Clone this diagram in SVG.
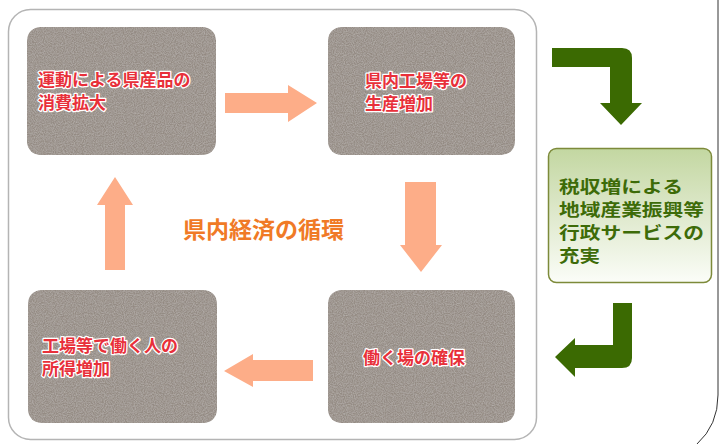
<svg xmlns="http://www.w3.org/2000/svg" width="722" height="444" viewBox="0 0 722 444">
<defs>
<filter id="stone" x="0" y="0" width="100%" height="100%">
<feTurbulence type="fractalNoise" baseFrequency="0.9" numOctaves="2" seed="3" result="n"/>
<feColorMatrix in="n" type="matrix" values="0 0 0 0 1  0 0 0 0 1  0 0 0 0 1  0 0 0 0.35 -0.1" result="w"/>
<feTurbulence type="fractalNoise" baseFrequency="0.25" numOctaves="2" seed="8" result="n2"/>
<feColorMatrix in="n2" type="matrix" values="0 0 0 0 0.3  0 0 0 0 0.27  0 0 0 0 0.25  0 0 0 0.5 -0.15" result="d"/>
<feMerge result="m"><feMergeNode in="SourceGraphic"/><feMergeNode in="d"/><feMergeNode in="w"/></feMerge>
<feComposite in="m" in2="SourceGraphic" operator="in"/>
</filter>
<linearGradient id="gg" x1="0" y1="0" x2="0" y2="1">
<stop offset="0" stop-color="#c3d7a1"/>
<stop offset="0.5" stop-color="#dfe9cd"/>
<stop offset="1" stop-color="#fbfdf8"/>
</linearGradient>
<style>
.stone{fill:#948b83;filter:url(#stone)}
.lbl{font-family:"Noto Sans CJK JP","Noto Sans",sans-serif;font-weight:bold;font-size:17px;fill:#e8303a;stroke:#ffffff;stroke-width:2.5px;paint-order:stroke;stroke-linejoin:round}
.ctr{font-family:"Noto Sans CJK JP","Noto Sans",sans-serif;font-size:23px;fill:#f07a26;font-weight:bold}
.gt{font-family:"Noto Sans CJK JP","Noto Sans",sans-serif;font-weight:bold;font-size:17px;fill:#3d6b08}
.sal{fill:#fdad88}
.grn{fill:#3b6a02}
</style>
</defs>
<rect width="722" height="444" fill="#ffffff"/>
<g id="frame">
<rect x="8.5" y="9.5" width="528" height="430" rx="22" fill="none" stroke="#b4b4b4" stroke-width="1.5"/>
<path d="M718 0 V395 Q718 425 697 444" fill="none" stroke="#333333" stroke-width="1"/>
</g>
<g id="node-consume">
<rect class="stone" x="27" y="27" width="189" height="128" rx="13"/>
<text class="lbl" x="38" y="86">運動による県産品の</text>
<text class="lbl" x="38" y="109">消費拡大</text>
</g>
<g id="node-production">
<rect class="stone" x="328" y="27" width="187" height="128" rx="13"/>
<text class="lbl" x="365" y="87">県内工場等の</text>
<text class="lbl" x="365" y="110">生産増加</text>
</g>
<g id="node-income">
<rect class="stone" x="28" y="290" width="189" height="133" rx="13"/>
<text class="lbl" x="42" y="352">工場等で働く人の</text>
<text class="lbl" x="42" y="375">所得増加</text>
</g>
<g id="node-jobs">
<rect class="stone" x="328" y="290" width="187" height="133" rx="13"/>
<text class="lbl" x="363" y="364">働く場の確保</text>
</g>
<g id="node-center">
<text class="ctr" x="183" y="238">県内経済の循環</text>
</g>
<g id="node-tax">
<rect x="548.5" y="148.5" width="163" height="134" rx="8" fill="url(#gg)" stroke="#7d8a3a" stroke-width="1.5"/>
<text class="gt" x="559" y="193" textLength="124" lengthAdjust="spacingAndGlyphs">税収増による</text>
<text class="gt" x="559" y="216" textLength="145" lengthAdjust="spacingAndGlyphs">地域産業振興等</text>
<text class="gt" x="559" y="239" textLength="145" lengthAdjust="spacingAndGlyphs">行政サービスの</text>
<text class="gt" x="559" y="262" textLength="41" lengthAdjust="spacingAndGlyphs">充実</text>
</g>
<g id="connectors">
<polygon class="sal" points="225,93 288,93 288,85 317,103 288,122 288,113 225,113"/>
<polygon class="sal" points="405,182 436,182 436,245 442,245 421,272 400,245 405,245"/>
<polygon class="sal" points="313,360 253,360 253,354 224,371 253,387 253,381 313,381"/>
<polygon class="sal" points="105,270 105,205 97,205 115,177 133,205 125,205 125,270"/>
<path class="grn" d="M552 48 H622 Q632 48 632 58 V103 H642 L621 125 L600 103 H610 V67 H552 Z"/>
<path class="grn" d="M613 303 H632 V358 Q632 368 622 368 H575 V377 L555 357 L575 338 V345 H613 Z"/>
</g>
</svg>
